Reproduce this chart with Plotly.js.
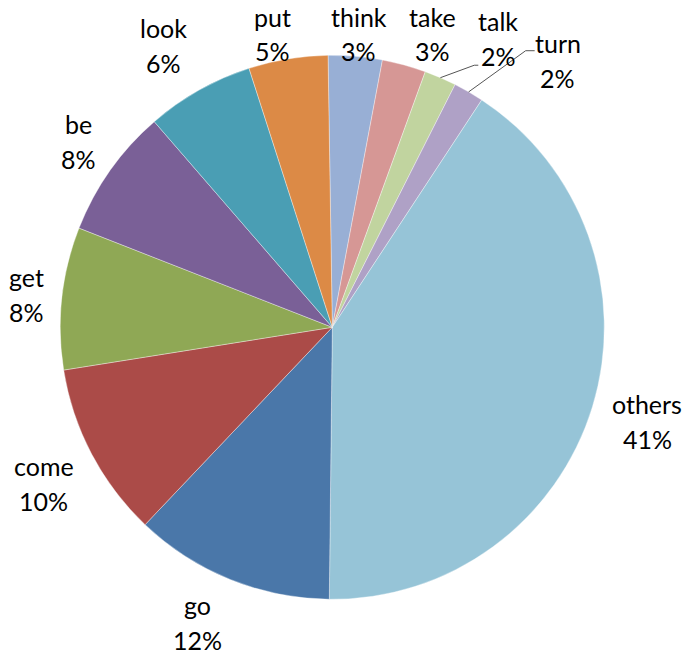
<!DOCTYPE html>
<html><head><meta charset="utf-8">
<script src="https://cdn.plot.ly/plotly-3.0.1.min.js"></script>
<style>html,body{margin:0;padding:0;background:#fff}#chart{width:688px;height:654px}</style>
</head><body><div id="chart"></div>
<script>
// ---- data ----
const labels = ['think','take','talk','turn','others','go','come','get','be','look','put'];
const values = [3.2, 2.6, 1.9, 1.8, 40.9, 11.9, 10.4, 8.45, 7.7, 6.4, 4.7];
const colors = ['#98AFD5','#D69795','#C1D49F','#AFA1C6','#96C4D7','#4A77A9','#AB4B48','#8FA855','#7A6097','#4A9EB4','#DC8A46'];

// ---- layout constants ----
const W = 688, H = 654, CX = 332.3, CY = 327.3, R = 272;
const ROT = -0.9;
const FONT = 'Lato', FS = 25, LINE = 35, G = 15, HH = 28;
const nudges = {think:[0,0],take:[18,0],talk:[44,0],turn:[70,6],others:[7,2],go:[-18,3],come:[-8,9],get:[-3,1],be:[-5,-4],look:[-17,-7],put:[-10,0]};
const leaders = {talk:{dy:27,gap:0,stub:4}, turn:{dy:-10,gap:0,stub:9}};

const total = values.reduce((a,b)=>a+b,0);
const pct = values.map(v=>Math.round(v/total*100));
const px = x => x / W, py = y => 1 - y / H;
const ctx = document.createElement('canvas').getContext('2d');
ctx.font = FS + 'px ' + FONT;

const annotations = [], shapes = [];
let cum = 0;
labels.forEach((name, i) => {
  const mid = (ROT + (cum + values[i] / 2) / total * 360) * Math.PI / 180;
  cum += values[i];
  const dx = Math.sin(mid), dy = -Math.cos(mid);
  const ptxt = pct[i] + '%';
  const hw = Math.max(ctx.measureText(name).width, ctx.measureText(ptxt).width) / 2;
  let x = CX + dx * (R + G) + dx * hw;
  let y = CY + dy * (R + G) + dy * HH;
  y = Math.max(34, Math.min(H - 32, y));
  x = Math.max(hw + 2, Math.min(W - hw - 2, x));
  x += nudges[name][0]; y += nudges[name][1];
  const f = {family: FONT, size: FS, color: '#000'};
  annotations.push({xref:'paper', yref:'paper', x:px(x), y:py(y - LINE/2), text:name, showarrow:false, xanchor:'center', yanchor:'middle', font:f});
  annotations.push({xref:'paper', yref:'paper', x:px(x), y:py(y + LINE/2), text:ptxt, showarrow:false, xanchor:'center', yanchor:'middle', font:f});
  if (leaders[name]) {
    const L = leaders[name];
    const ex = CX + dx * R, ey = CY + dy * R;
    const endX = x - hw - L.gap, ay = y + L.dy;
    const elbX = endX - L.stub;
    shapes.push({type:'path', xref:'paper', yref:'paper',
      path:`M ${px(ex)},${py(ey)} L ${px(elbX)},${py(ay)} L ${px(endX)},${py(ay)}`,
      line:{color:'#555', width:1}});
  }
});

const trace = {
  type:'pie', labels: labels, values: values, sort:false, direction:'clockwise', rotation: ROT,
  marker:{colors: colors, line:{color:'rgba(255,255,255,0.6)', width:0.6}},
  textinfo:'none', hoverinfo:'label+percent', showlegend:false,
  domain:{x:[(CX - R)/W, (CX + R)/W], y:[(H - CY - R)/H, (H - CY + R)/H]}
};
const layout = {width:W, height:H, margin:{l:0,r:0,t:0,b:0}, paper_bgcolor:'#fff',
  showlegend:false, annotations: annotations, shapes: shapes};
Plotly.newPlot('chart', [trace], layout, {displayModeBar:false, staticPlot:true});
</script>
</body></html>
